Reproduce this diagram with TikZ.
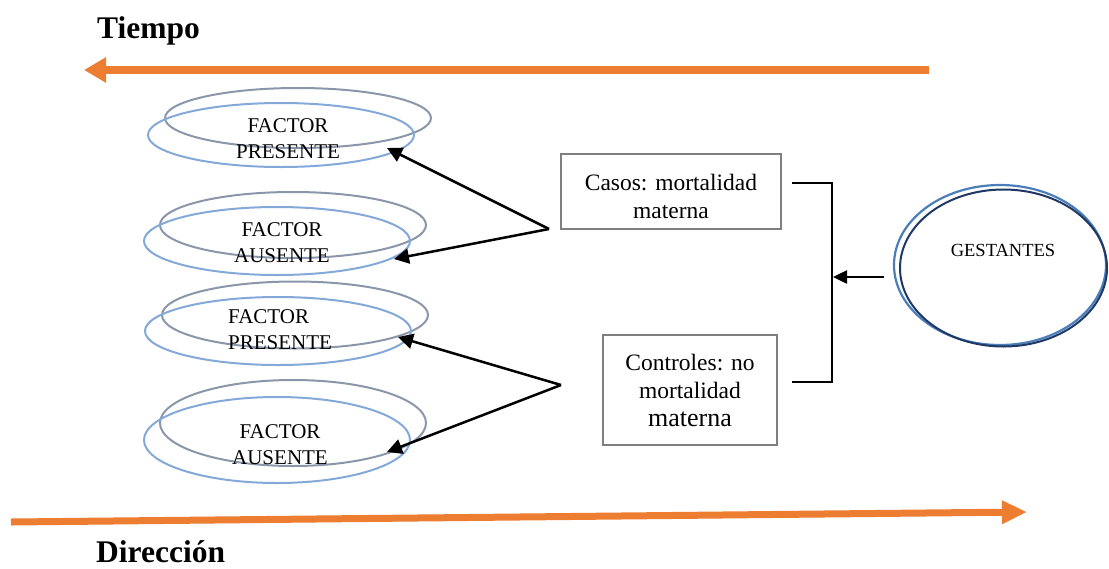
\documentclass[tikz,border=0pt]{standalone}
\usepackage{fontspec}
\setmainfont{Liberation Serif}
\usetikzlibrary{arrows.meta,shapes.geometric}
\definecolor{orng}{HTML}{ED7D31}
\definecolor{elgray}{HTML}{8A97AA}
\definecolor{elblue}{HTML}{84A9D9}
\definecolor{gblue}{HTML}{4A7EBB}
\definecolor{gdark}{HTML}{1F3864}
\definecolor{boxgray}{HTML}{7F7F7F}
\begin{document}
\begin{tikzpicture}[x=1pt,y=-1pt,
  ell/.style={draw, ellipse, line width=2pt, inner sep=0pt, minimum width=266pt},
  gr/.style={ell, draw=elgray},
  bl/.style={ell, draw=elblue},
  ftxt/.style={font=\fontsize{21}{26}\selectfont, align=center, inner sep=0pt},
  btxt/.style={font=\fontsize{23.5}{28}\selectfont, align=center, inner sep=0pt},
  boxst/.style={draw=boxgray, line width=2pt, inner sep=0pt},
  conn/.style={line width=2.5pt, -{Triangle[length=15pt,width=15pt]}},
  orarrow/.style={draw=orng, line width=8pt, -{Triangle[length=22pt,width=24pt]}},
  title/.style={font=\fontsize{31.5}{36}\selectfont\bfseries, anchor=base west, inner sep=0pt}
]
\useasboundingbox (0,0) rectangle (1109,568);

% titles
\node[title] (tiempo) at (97,38) {Tiempo};
\node[title] (dir) at (96,562) {Dirección};

% orange arrows
\coordinate (ta) at (929,70);
\coordinate (tb) at (84,70);
\draw[orarrow] (ta) -- (tb);
\coordinate (da) at (11,522);
\coordinate (db) at (1027,512);
\draw[draw=orng, line width=7pt, -{Triangle[length=25pt,width=22pt]}] (da) -- (db);

% ellipse pairs
\node[gr, minimum height=60pt] (g1) at (298,118) {};
\node[bl, minimum height=64pt] (b1) at (281,135) {};
\node[ftxt] (t1) at (288,139) {FACTOR\\PRESENTE};

\node[gr, minimum height=66pt] (g2) at (293,225) {};
\node[bl, minimum height=68pt] (b2) at (277,241) {};
\node[ftxt] (t2) at (282,242.5) {FACTOR\\AUSENTE};

\node[gr, minimum height=67pt] (g3) at (295,315) {};
\node[bl, minimum height=68pt] (b3) at (278,331) {};
\node[ftxt, align=left, anchor=west] (t3) at (228,329.5) {FACTOR\\PRESENTE};

\node[gr, minimum height=86pt] (g4) at (293,423) {};
\node[bl, minimum height=86pt] (b4) at (277,440) {};
\node[ftxt] (t4) at (280,445) {FACTOR\\AUSENTE};

% boxes
\node[boxst, minimum width=220pt, minimum height=75pt] (casos) at (671,191.5) {};
\node[btxt] (casost) at (671,196) {Casos: mortalidad\\materna};
\node[boxst, btxt, minimum width=174pt, minimum height=110pt] (ctrl) at (690,390)
  {Controles: no\\mortalidad\\{\fontsize{26}{28}\selectfont materna}};

% connectors to ellipses
\coordinate (s1) at (549,229);
\coordinate (p1) at (387,148);
\coordinate (p2) at (394,259);
\coordinate (s2) at (561,385);
\coordinate (p3) at (398,337);
\coordinate (p4) at (387,452);
\draw[conn] (s1) -- (p1);
\draw[conn] (s1) -- (p2);
\draw[conn] (s2) -- (p3);
\draw[conn] (s2) -- (p4);

% bracket
\coordinate (k1) at (792,183);
\coordinate (k2) at (792,382);
\draw[line width=2.5pt] (k1) -- (832,183) -- (832,382) -- (k2);

% gestantes
\node[draw=gblue, ellipse, line width=2.2pt, minimum width=212pt, minimum height=160pt, inner sep=0pt] (gest) at (1000,265) {};
\node[draw=gdark, ellipse, line width=2pt, minimum width=207pt, minimum height=157pt, inner sep=0pt] (gest2) at (1003.5,268) {};
\node[font=\fontsize{18.5}{22}\selectfont, inner sep=0pt] (gestt) at (1003,250) {GESTANTES};
\coordinate (ga) at (884,277);
\coordinate (gb) at (833,277);
\draw[line width=2.5pt, -{Triangle[length=14pt,width=13pt]}] (ga) -- (gb);
\end{tikzpicture}
\end{document}
